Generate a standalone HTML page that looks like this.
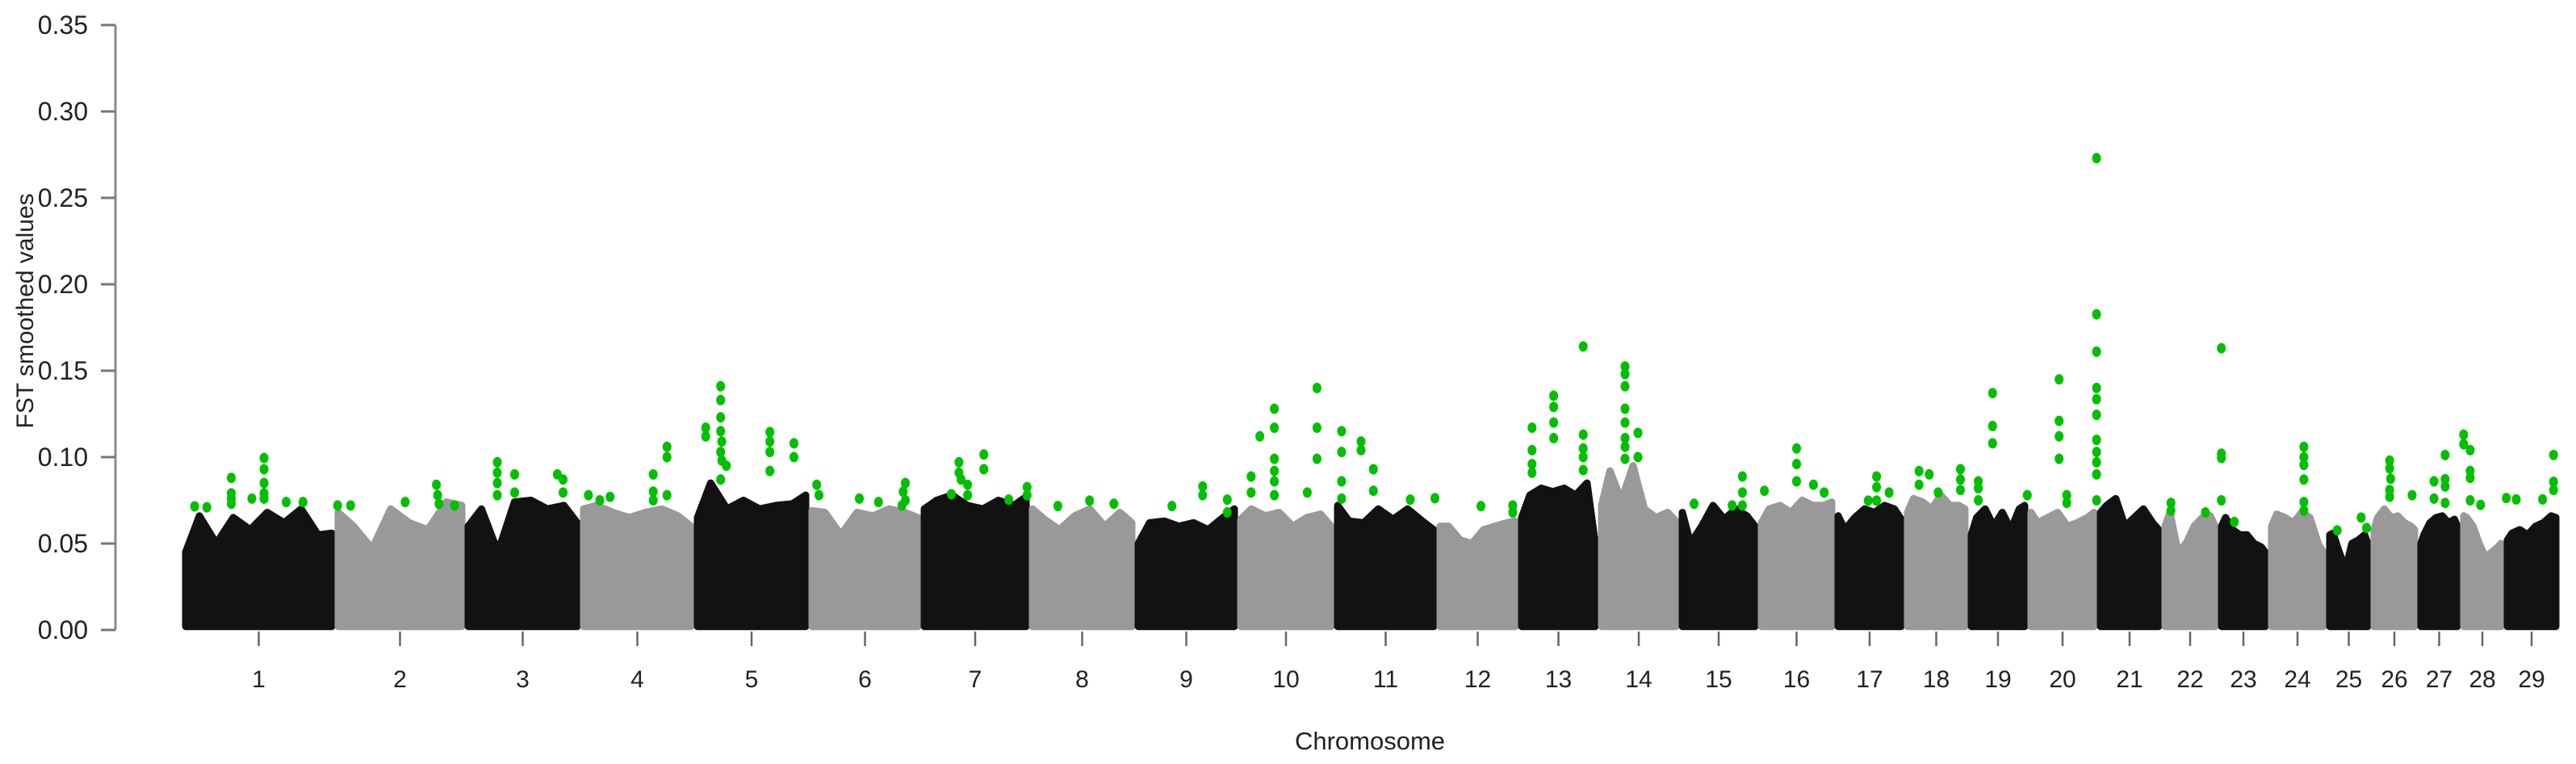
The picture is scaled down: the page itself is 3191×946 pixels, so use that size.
<!DOCTYPE html>
<html><head><meta charset="utf-8"><style>
html,body{margin:0;padding:0;background:#fff;}
svg{display:block;font-family:"Liberation Sans",Arial,sans-serif;}
</style></head><body>
<svg id="chart" width="3191" height="946" viewBox="0 0 3191 946" xmlns="http://www.w3.org/2000/svg">
<g id="masses"></g>
<g id="greens"></g>
<g id="axes"></g>
<text x="0" y="0" transform="translate(41,385) rotate(-90)" text-anchor="middle" font-size="30" fill="#222">FST smoothed values</text>
<text x="1697" y="928" text-anchor="middle" font-size="31" fill="#222">Chromosome</text>
</svg>
<script>
const chromLabels = ["1","2","3","4","5","6","7","8","9","10","11","12","13","14","15","16","17","18","19","20","21","22","23","24","25","26","27","28","29"];
const chromLengths = [189,161,143,141,142,139,134,131,127,120,127,101,99,100,98,95,86,79,74,86,80,70,62,72,55,58,53,54,68];
const yTicks = [0,0.05,0.10,0.15,0.20,0.25,0.30,0.35];
const yTickLabels = ["0.00","0.05","0.10","0.15","0.20","0.25","0.30","0.35"];
const envelopes = [
[0.045,0.066,0.05,0.065,0.058,0.068,0.062,0.07,0.055,0.056],
[0.068,0.06,0.047,0.07,0.062,0.058,0.074,0.072],
[0.06,0.07,0.045,0.074,0.075,0.07,0.072,0.062],
[0.07,0.072,0.068,0.065,0.068,0.07,0.066,0.06],
[0.065,0.085,0.07,0.075,0.07,0.072,0.073,0.078],
[0.069,0.068,0.055,0.068,0.066,0.07,0.068,0.065],
[0.07,0.075,0.078,0.072,0.07,0.075,0.072,0.077],
[0.07,0.064,0.058,0.066,0.07,0.06,0.068,0.062],
[0.05,0.062,0.063,0.06,0.062,0.058,0.065,0.07],
[0.064,0.07,0.066,0.068,0.06,0.065,0.067,0.06],
[0.072,0.063,0.062,0.07,0.064,0.07,0.063,0.058],
[0.06,0.06,0.052,0.05,0.058,0.06,0.062,0.063],
[0.065,0.078,0.082,0.08,0.082,0.078,0.085,0.05],
[0.072,0.092,0.075,0.095,0.07,0.065,0.068,0.063],
[0.068,0.05,0.06,0.072,0.064,0.07,0.066,0.06],
[0.062,0.07,0.072,0.068,0.075,0.072,0.072,0.074],
[0.066,0.058,0.065,0.07,0.068,0.072,0.07,0.064],
[0.068,0.076,0.074,0.07,0.078,0.072,0.072,0.07],
[0.055,0.065,0.07,0.06,0.068,0.058,0.07,0.072],
[0.068,0.062,0.065,0.068,0.06,0.062,0.065,0.068],
[0.068,0.072,0.076,0.06,0.065,0.07,0.062,0.058],
[0.06,0.068,0.045,0.05,0.06,0.065,0.066,0.06],
[0.06,0.065,0.058,0.055,0.055,0.05,0.048,0.045],
[0.06,0.067,0.065,0.062,0.068,0.065,0.05,0.045],
[0.055,0.056,0.045,0.035,0.05,0.052,0.055,0.05],
[0.058,0.065,0.07,0.065,0.066,0.062,0.06,0.058],
[0.05,0.055,0.062,0.065,0.066,0.062,0.064,0.06],
[0.066,0.065,0.06,0.05,0.042,0.045,0.048,0.05],
[0.052,0.056,0.058,0.055,0.06,0.062,0.066,0.065]
];
// significant points: [chromosome index, relative position in chromosome, FST]
const greenPoints = [
[0,.08,.0715],[0,.16,.071],[0,.32,.088],[0,.32,.079],[0,.32,.076],[0,.32,.073],[0,.455,.076],[0,.535,.0995],[0,.535,.093],[0,.535,.085],[0,.535,.079],[0,.535,.076],[0,.68,.074],[0,.79,.074],
[1,.02,.072],[1,.12,.072],[1,.54,.074],[1,.78,.084],[1,.79,.078],[1,.8,.073],[1,.92,.072],
[2,.28,.097],[2,.28,.091],[2,.28,.085],[2,.28,.078],[2,.43,.09],[2,.43,.0795],[2,.8,.09],[2,.85,.087],[2,.85,.0795],
[3,.07,.078],[3,.17,.075],[3,.26,.077],[3,.64,.09],[3,.64,.08],[3,.64,.075],[3,.76,.106],[3,.76,.1],[3,.76,.078],
[4,.1,.117],[4,.1,.112],[4,.23,.141],[4,.23,.133],[4,.23,.123],[4,.23,.115],[4,.24,.109],[4,.23,.103],[4,.24,.098],[4,.23,.087],[4,.28,.095],[4,.66,.1145],[4,.66,.109],[4,.66,.103],[4,.66,.092],[4,.87,.108],[4,.87,.1],
[5,.07,.084],[5,.09,.078],[5,.45,.076],[5,.62,.074],[5,.86,.085],[5,.84,.08],[5,.86,.075],[5,.83,.072],
[6,.28,.0785],[6,.35,.097],[6,.35,.091],[6,.37,.087],[6,.43,.084],[6,.43,.078],[6,.58,.1015],[6,.58,.093],[6,.81,.0754],[6,.98,.0826],[6,.98,.078],
[7,.27,.0717],[7,.57,.0748],[7,.8,.073],
[8,.36,.0717],[8,.66,.083],[8,.66,.078],[8,.9,.0754],[8,.9,.068],
[9,.14,.0888],[9,.14,.0795],[9,.23,.112],[9,.38,.128],[9,.38,.117],[9,.38,.099],[9,.38,.092],[9,.38,.086],[9,.38,.078],[9,.72,.0795],[9,.82,.14],[9,.82,.117],[9,.82,.099],
[10,.07,.115],[10,.07,.103],[10,.07,.086],[10,.07,.076],[10,.26,.109],[10,.26,.104],[10,.38,.093],[10,.38,.0805],[10,.74,.0754],[10,.98,.0762],
[11,.54,.0717],[11,.93,.072],[11,.93,.068],
[12,.17,.117],[12,.17,.104],[12,.17,.096],[12,.17,.091],[12,.44,.1355],[12,.44,.129],[12,.44,.12],[12,.44,.111],[12,.81,.164],[12,.81,.113],[12,.81,.105],[12,.81,.1],[12,.81,.0925],
[13,.33,.1525],[13,.33,.148],[13,.33,.141],[13,.33,.128],[13,.33,.12],[13,.33,.111],[13,.33,.106],[13,.33,.099],[13,.49,.114],[13,.49,.1],
[14,.19,.073],[14,.67,.072],[14,.8,.0888],[14,.8,.0795],[14,.8,.072],
[15,.08,.0805],[15,.5,.105],[15,.5,.096],[15,.5,.086],[15,.72,.084],[15,.86,.0795],
[16,.48,.0748],[16,.6,.0888],[16,.6,.0826],[16,.6,.0748],[16,.78,.0795],
[17,.23,.0919],[17,.23,.084],[17,.39,.09],[17,.53,.0795],[17,.88,.093],[17,.88,.087],[17,.88,.081],
[18,.17,.086],[18,.17,.082],[18,.17,.075],[18,.41,.137],[18,.41,.118],[18,.41,.108],[18,.99,.078],
[19,.45,.145],[19,.45,.121],[19,.45,.112],[19,.45,.099],[19,.56,.078],[19,.56,.0735],
[19,.99,.273],[19,.99,.1826],[19,.99,.161],[19,.99,.14],[19,.99,.1335],[19,.99,.1245],[19,.99,.11],[19,.99,.103],[19,.99,.097],[19,.99,.09],[19,.99,.075],
[21,.16,.0735],[21,.16,.069],[21,.77,.068],
[22,.06,.163],[22,.06,.102],[22,.06,.0995],[22,.06,.075],[22,.32,.0625],
[23,.61,.106],[23,.61,.1],[23,.61,.0955],[23,.61,.087],[23,.61,.074],[23,.61,.069],
[24,.24,.0576],[24,.78,.065],[24,.9,.059],
[25,.4,.098],[25,.4,.0935],[25,.42,.0875],[25,.4,.081],[25,.4,.077],[25,.88,.078],
[26,.38,.086],[26,.38,.076],[26,.64,.1012],[26,.64,.0872],[26,.64,.083],[26,.64,.0735],
[27,.07,.113],[27,.07,.1075],[27,.22,.104],[27,.22,.092],[27,.22,.088],[27,.22,.075],[27,.46,.0724],
[28,.04,.0763],[28,.22,.0755],[28,.7,.0755],[28,.9,.1012],[28,.9,.0857],[28,.9,.081]
];

const NS = "http://www.w3.org/2000/svg";
const X0 = 226, X1 = 3170, Y0 = 780, YPX = 2140;
const total = chromLengths.reduce((a,b)=>a+b,0);
const starts = []; { let c = 0; for (const l of chromLengths) { starts.push(c); c += l; } }
function xScale(pos){ return X0 + (pos/total)*(X1-X0); }
function yScale(v){ return Y0 - v*YPX; }
function mk(tag, attrs, parent){ const e = document.createElementNS(NS, tag); for (const k in attrs) e.setAttribute(k, attrs[k]); parent.appendChild(e); return e; }

const masses = document.getElementById('masses');
envelopes.forEach((env, i) => {
  const col = i % 2 === 0 ? '#121212' : '#999999';
  const s = starts[i], l = chromLengths[i];
  const pad = 4;
  const pts = [];
  const n = env.length;
  pts.push([xScale(s)+pad, yScale(0.002)]);
  env.forEach((v, j) => {
    pts.push([xScale(s + l*(j/(n-1))) + (j===0?pad:(j===n-1?-pad:0)), yScale(v)]);
  });
  pts.push([xScale(s+l)-pad, yScale(0.002)]);
  const p = mk('polygon', {points: pts.map(q=>q[0].toFixed(1)+','+q[1].toFixed(1)).join(' '), fill: col, stroke: col, 'stroke-width': 9, 'stroke-linejoin': 'round'}, masses);
  
  
});

const greens = document.getElementById('greens');
greenPoints.forEach(g => {
  const c = mk('ellipse', {cx: xScale(starts[g[0]] + chromLengths[g[0]]*g[1]).toFixed(1), cy: yScale(g[2]).toFixed(1), rx: 5.5, ry: 6.5, fill: '#00c000'}, greens);
  
  
});

const axes = document.getElementById('axes');
const yl = mk('line', {x1:143, x2:143, y1:yScale(0.35), y2:yScale(0), stroke:'#8a8a8a', 'stroke-width':3}, axes);


yTicks.forEach((t, i) => {
  const tk = mk('line', {x1:125, x2:143, y1:yScale(t), y2:yScale(t), stroke:'#777', 'stroke-width':3}, axes);
  
  
  const tx = mk('text', {x:109, y:yScale(t)+11, 'text-anchor':'end', 'font-size':32, fill:'#222'}, axes);
  tx.textContent = yTickLabels[i];
  
  
});
chromLabels.forEach((lab, i) => {
  const xc = xScale(starts[i] + chromLengths[i]/2);
  const tk = mk('line', {x1:xc, x2:xc, y1:782, y2:800, stroke:'#666', 'stroke-width':2.5}, axes);
  
  
  const tx = mk('text', {x:xc, y:851, 'text-anchor':'middle', 'font-size':30, fill:'#222'}, axes);
  tx.textContent = lab;
  
  
});
</script>
</body></html>
